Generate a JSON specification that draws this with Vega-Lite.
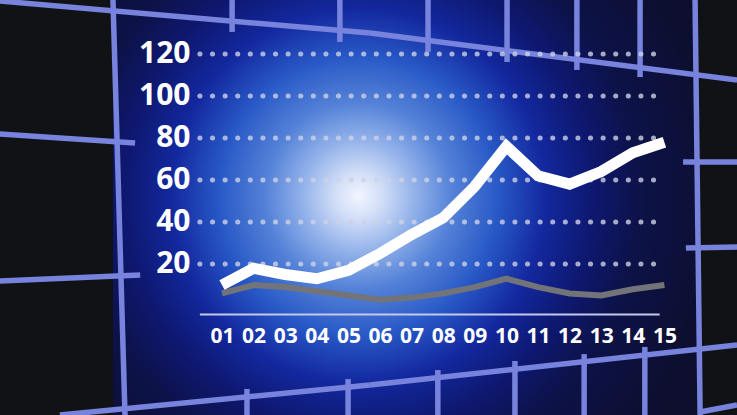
{
  "$schema": "https://vega.github.io/schema/vega-lite/v6.json",
  "width": 737,
  "height": 415,
  "padding": 0,
  "autosize": {"type": "none"},
  "background": "#111216",
  "config": {"view": {"stroke": null}},
  "datasets": {
    "series": [
      {"day": 1, "series": "A", "value": 10}, {"day": 2, "series": "A", "value": 18}, {"day": 3, "series": "A", "value": 15},
      {"day": 4, "series": "A", "value": 13}, {"day": 5, "series": "A", "value": 17}, {"day": 6, "series": "A", "value": 25},
      {"day": 7, "series": "A", "value": 34}, {"day": 8, "series": "A", "value": 42}, {"day": 9, "series": "A", "value": 57},
      {"day": 10, "series": "A", "value": 76}, {"day": 11, "series": "A", "value": 62}, {"day": 12, "series": "A", "value": 58},
      {"day": 13, "series": "A", "value": 64}, {"day": 14, "series": "A", "value": 73}, {"day": 15, "series": "A", "value": 78},
      {"day": 1, "series": "B", "value": 6}, {"day": 2, "series": "B", "value": 10}, {"day": 3, "series": "B", "value": 9},
      {"day": 4, "series": "B", "value": 7}, {"day": 5, "series": "B", "value": 5}, {"day": 6, "series": "B", "value": 3},
      {"day": 7, "series": "B", "value": 4}, {"day": 8, "series": "B", "value": 6}, {"day": 9, "series": "B", "value": 9},
      {"day": 10, "series": "B", "value": 13}, {"day": 11, "series": "B", "value": 9}, {"day": 12, "series": "B", "value": 6},
      {"day": 13, "series": "B", "value": 5}, {"day": 14, "series": "B", "value": 8}, {"day": 15, "series": "B", "value": 10}
    ],
    "levels": [{"level": 20}, {"level": 40}, {"level": 60}, {"level": 80}, {"level": 100}, {"level": 120}],
    "grid": [
      {"x": -6.03, "y": 145.2, "x2": 5.68, "y2": 130.0},
      {"x": 5.68, "y": 130.0, "x2": 17.3, "y2": 107.6},
      {"x": 1.32, "y": 145.7, "x2": 1.32, "y2": 130.5},
      {"x": 4.73, "y": 145.7, "x2": 4.73, "y2": 125.7},
      {"x": 7.52, "y": 145.7, "x2": 7.52, "y2": 121.0},
      {"x": 10.02, "y": 145.7, "x2": 10.02, "y2": 116.2},
      {"x": 12.23, "y": 145.7, "x2": 12.23, "y2": 112.4},
      {"x": 14.23, "y": 145.7, "x2": 14.23, "y2": 109.0},
      {"x": -2.45, "y": 145.7, "x2": -2.07, "y2": -51.9},
      {"x": 15.97, "y": 145.7, "x2": 16.13, "y2": -51.9},
      {"x": -6.03, "y": 81.9, "x2": -1.75, "y2": 77.6},
      {"x": -6.03, "y": 11.9, "x2": -1.59, "y2": 14.8},
      {"x": 15.59, "y": 68.6, "x2": 17.3, "y2": 68.6},
      {"x": 15.68, "y": 27.6, "x2": 17.3, "y2": 28.1},
      {"x": 16.13, "y": -50.5, "x2": 17.3, "y2": -47.1},
      {"x": -4.13, "y": -51.9, "x2": 5.68, "y2": -37.6},
      {"x": 5.68, "y": -37.6, "x2": 17.3, "y2": -18.6},
      {"x": 1.79, "y": -39.5, "x2": 1.79, "y2": -51.9},
      {"x": 4.99, "y": -34.8, "x2": 4.99, "y2": -51.9},
      {"x": 7.83, "y": -30.5, "x2": 7.83, "y2": -51.9},
      {"x": 10.27, "y": -26.2, "x2": 10.27, "y2": -51.9},
      {"x": 12.46, "y": -22.9, "x2": 12.46, "y2": -51.9},
      {"x": 14.38, "y": -19.5, "x2": 14.38, "y2": -51.9}
    ]
  },
  "layer": [
    {
      "data": {"values": [{}]},
      "mark": {
        "type": "rect",
        "fill": {
          "gradient": "radial",
          "x1": 0.42, "y1": 0.48, "r1": 0,
          "x2": 0.42, "y2": 0.48, "r2": 0.8,
          "stops": [
            {"offset": 0, "color": "#f2f5ff"},
            {"offset": 0.05, "color": "#d2def7"},
            {"offset": 0.12, "color": "#93b2ea"},
            {"offset": 0.2, "color": "#5482d8"},
            {"offset": 0.3, "color": "#2858c6"},
            {"offset": 0.4, "color": "#13289e"},
            {"offset": 0.5, "color": "#0e1870"},
            {"offset": 0.6, "color": "#0d1248"},
            {"offset": 0.75, "color": "#0d0f32"},
            {"offset": 1, "color": "#0c0d20"}
          ]
        }
      },
      "encoding": {
        "x": {
          "datum": -2.45, "type": "quantitative",
          "scale": {"domain": [-6.025, 17.297], "nice": false, "zero": false},
          "axis": {
            "orient": "bottom", "offset": -92, "zindex": 2, "values": [1, 2, 3, 4, 5, 6, 7, 8, 9, 10, 11, 12, 13, 14, 15],
            "labelExpr": "datum.value < 10 ? '0' + datum.value : '' + datum.value",
            "domain": false, "ticks": false, "grid": false, "title": null,
            "labelFont": "Open Sans", "labelFontWeight": "bold", "labelFontSize": 21, "labelColor": "#ffffff",
            "labelPadding": 2, "labelFlush": false, "labelOverlap": false
          }
        },
        "x2": {"datum": 16.05},
        "y": {
          "datum": -51.9, "type": "quantitative",
          "scale": {"domain": [-51.9, 145.7], "nice": false, "zero": false},
          "axis": {
            "orient": "left", "offset": -195, "zindex": 2, "values": [20, 40, 60, 80, 100, 120],
            "domain": false, "ticks": false, "grid": false, "title": null,
            "labelFont": "Open Sans", "labelFontWeight": "bold", "labelFontSize": 30, "labelColor": "#ffffff",
            "labelPadding": 5, "labelFlush": false, "labelOverlap": false
          }
        },
        "y2": {"datum": 145.7}
      }
    },
    {
      "data": {"name": "grid"},
      "mark": {"type": "rule", "stroke": "#7783dc", "strokeWidth": 5.5, "strokeCap": "butt"},
      "encoding": {
        "x": {"field": "x", "type": "quantitative"},
        "x2": {"field": "x2"},
        "y": {"field": "y", "type": "quantitative"},
        "y2": {"field": "y2"}
      }
    },
    {
      "data": {"name": "levels"},
      "mark": {"type": "rule", "stroke": "#cdd1e6", "strokeWidth": 5, "strokeCap": "round", "strokeDash": [0.1, 12.5], "opacity": 0.8},
      "encoding": {
        "x": {"datum": 0.3, "type": "quantitative"},
        "x2": {"datum": 14.75},
        "y": {"field": "level", "type": "quantitative"}
      }
    },
    {
      "data": {"values": [{}]},
      "mark": {"type": "rule", "stroke": "#c4c8ec", "strokeWidth": 2},
      "encoding": {
        "x": {"datum": 0.3, "type": "quantitative"},
        "x2": {"datum": 14.85},
        "y": {"datum": -4, "type": "quantitative"}
      }
    },
    {
      "data": {"name": "series"},
      "transform": [{"filter": "datum.series == 'B'"}],
      "mark": {"type": "line", "stroke": "#727479", "strokeWidth": 6, "strokeJoin": "miter", "strokeCap": "butt"},
      "encoding": {
        "x": {"field": "day", "type": "quantitative"},
        "y": {"field": "value", "type": "quantitative"}
      }
    },
    {
      "data": {"name": "series"},
      "transform": [{"filter": "datum.series == 'A'"}],
      "mark": {"type": "line", "stroke": "#ffffff", "strokeWidth": 11, "strokeJoin": "miter", "strokeCap": "butt"},
      "encoding": {
        "x": {"field": "day", "type": "quantitative"},
        "y": {"field": "value", "type": "quantitative"}
      }
    }
  ]
}
